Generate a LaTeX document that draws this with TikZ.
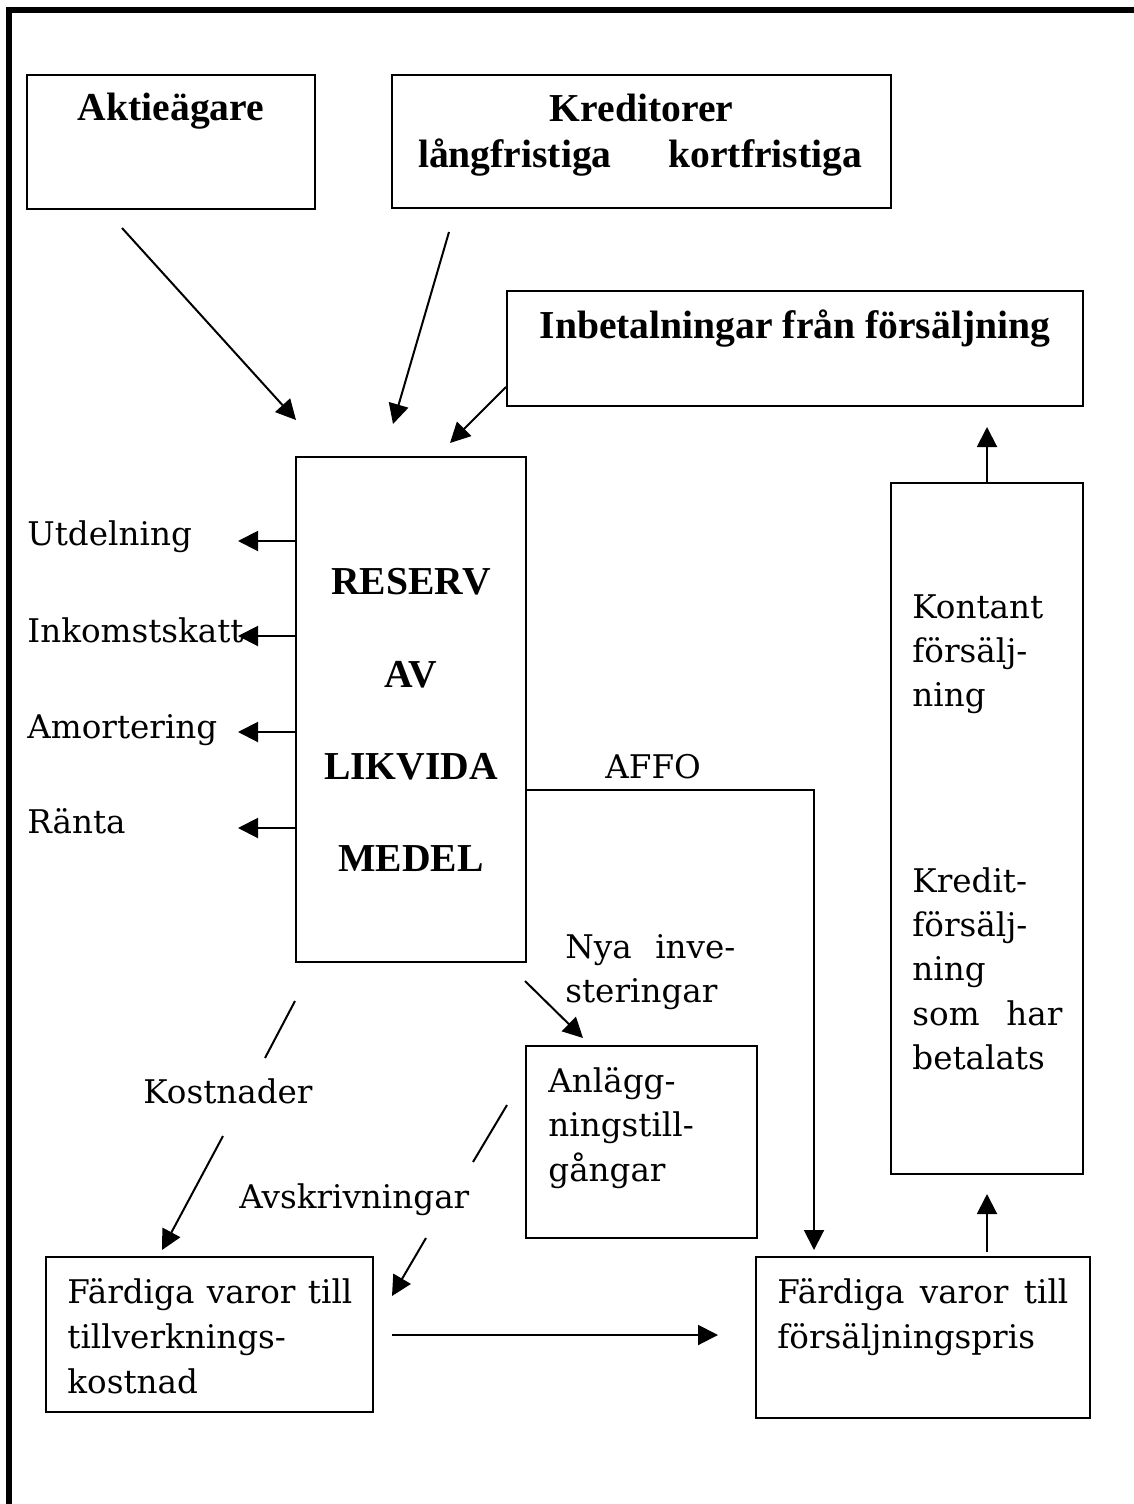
\documentclass[tikz,border=0pt]{standalone}
\usepackage{fontspec}
\setmainfont{DejaVu Serif}
\newfontfamily\tnr{Liberation Serif}
\usetikzlibrary{arrows.meta,fit}
\newcommand\rgf{\fontsize{16.3}{20}\selectfont}
\newcommand\bdf{\tnr\bfseries\fontsize{19.8}{24}\selectfont}
\begin{document}
\begin{tikzpicture}[x=0.5pt,y=-0.5pt,
  box/.style={draw,line width=1pt,inner sep=0pt},
  txt/.style={inner sep=0pt,anchor=base west,font=\rgf},
  btxt/.style={inner sep=0pt,anchor=base,font=\bdf},
  arr/.style={line width=1pt,-{Triangle[length=10pt,width=10pt]}},
  ln/.style={line width=1pt}]
\useasboundingbox (0,0) rectangle (1134,1504);
% frame
\coordinate (fbl) at (8.5,1504);
\coordinate (ftl) at (8.5,10.5);
\coordinate (ftr) at (1134,10.5);
\draw[line width=3pt] (fbl) -- (ftl) -- (ftr);

% boxes
\node[box,fit={(27,75)(315,209)}] (akt) {};
\node[box,fit={(392,75)(891,208)}] (kred) {};
\node[box,fit={(507,291)(1083,406)}] (inb) {};
\node[box,fit={(296,457)(526,962)}] (res) {};
\node[box,fit={(891,483)(1083,1174)}] (kon) {};
\node[box,fit={(526,1046)(757,1238)}] (anl) {};
\node[box,fit={(46,1257)(373,1412)}] (fl) {};
\node[box,fit={(756,1257)(1090,1418)}] (fr) {};

% bold texts
\node[btxt] (takt) at (171,120) {Aktieägare};
\node[btxt] (tkred1) at (641.5,122) {Kreditorer};
\node[btxt] (tkred2) at (640,167) {\makebox[222pt][s]{långfristiga kortfristiga}};
\node[btxt] (tinb) at (795,338) {Inbetalningar från försäljning};
\node[btxt] (tres1) at (411,594) {RESERV};
\node[btxt] (tres2) at (411,687) {AV};
\node[btxt] (tres3) at (411,779) {LIKVIDA};
\node[btxt] (tres4) at (411,871) {MEDEL};

% regular texts
\node[txt] (tutd) at (27,545) {Utdelning};
\node[txt] (tink) at (27,642) {Inkomstskatt};
\node[txt] (tamo) at (27,738) {Amortering};
\node[txt] (tran) at (27,833) {Ränta};
\node[txt] (taffo) at (605,778) {AFFO};
\node[txt] (tnya1) at (565,958) {\makebox[85pt][s]{Nya inve-}};
\node[txt] (tnya2) at (565,1002) {steringar};
\node[txt] (tanl1) at (548,1092) {Anlägg-};
\node[txt] (tanl2) at (548,1136) {ningstill-};
\node[txt] (tanl3) at (548,1181) {gångar};
\node[txt] (tkost) at (143,1103) {Kostnader};
\node[txt] (tavsk) at (239,1208) {Avskrivningar};
\node[txt] (tfl1) at (67,1303) {\makebox[142.5pt][s]{Färdiga varor till}};
\node[txt] (tfl2) at (67,1348) {tillverknings-};
\node[txt] (tfl3) at (67,1393) {kostnad};
\node[txt] (tfr1) at (777,1303) {\makebox[145.5pt][s]{Färdiga varor till}};
\node[txt] (tfr2) at (777,1348) {försäljningspris};
\node[txt] (tkon1) at (912,618) {Kontant};
\node[txt] (tkon2) at (912,662) {försälj-};
\node[txt] (tkon3) at (912,706) {ning};
\node[txt] (tkre1) at (912,892) {Kredit-};
\node[txt] (tkre2) at (912,936) {försälj-};
\node[txt] (tkre3) at (912,980) {ning};
\node[txt] (tkre4) at (912,1025) {\makebox[75pt][s]{som har}};
\node[txt] (tkre5) at (912,1069) {betalats};

% connectors
\coordinate (a1s) at (122,228); \coordinate (a1e) at (296,420);
\draw[arr] (a1s) -- (a1e);
\coordinate (a2s) at (449,232); \coordinate (a2e) at (393,424);
\draw[arr] (a2s) -- (a2e);
\coordinate (a3s) at (507,387); \coordinate (a3e) at (450,443);
\draw[arr] (inb.west |- a3s) -- (a3e);

\coordinate (u1) at (238,541);
\coordinate (u2) at (238,636);
\coordinate (u3) at (238,732);
\coordinate (u4) at (238,828);
\draw[arr] (res.west |- u1) -- (u1);
\draw[arr] (res.west |- u2) -- (u2);
\draw[arr] (res.west |- u3) -- (u3);
\draw[arr] (res.west |- u4) -- (u4);

\coordinate (affo) at (814,790);
\coordinate (affoe) at (814,1250);
\draw[arr] (res.east |- affo) -- (affo) -- (affoe);

\coordinate (nyas) at (525,981); \coordinate (nyae) at (583,1038);
\draw[arr] (nyas) -- (nyae);

\coordinate (k1s) at (295,1001); \coordinate (k1e) at (265,1058);
\draw[ln] (k1s) -- (k1e);
\coordinate (k2s) at (223,1136); \coordinate (k2e) at (162,1250);
\draw[arr] (k2s) -- (k2e);

\coordinate (v1s) at (507,1105); \coordinate (v1e) at (473,1162);
\draw[ln] (v1s) -- (v1e);
\coordinate (v2s) at (426,1238); \coordinate (v2e) at (392,1296);
\draw[arr] (v2s) -- (v2e);

\coordinate (hs) at (392,1335); \coordinate (he) at (718,1335);
\draw[arr] (hs) -- (he);

\coordinate (up1s) at (987,1252); \coordinate (up1e) at (987,1194);
\draw[arr] (up1s) -- (up1e);
\coordinate (up2e) at (987,427);
\draw[arr] (kon.north -| up2e) -- (up2e);
\end{tikzpicture}
\end{document}
